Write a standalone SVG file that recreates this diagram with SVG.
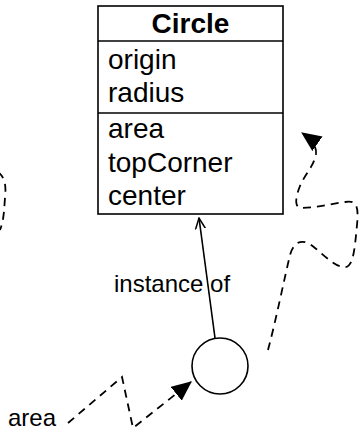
<svg xmlns="http://www.w3.org/2000/svg" width="360" height="432" viewBox="0 0 360 432">
<style>
.t{font-family:"Liberation Sans",Arial,sans-serif;font-size:24px;fill:#000}
.m{font-size:28px}
.b{font-weight:bold}
.ln{fill:none;stroke:#000;stroke-width:1.6}
.d{fill:none;stroke:#000;stroke-width:1.8;stroke-dasharray:8 6}
</style>
<defs>
<marker id="open" viewBox="0 0 12 12" refX="11" refY="6" markerWidth="12" markerHeight="12" markerUnits="userSpaceOnUse" orient="auto">
<path d="M0,1 L11,6 L0,11" fill="none" stroke="#000" stroke-width="1.5"/>
</marker>
<marker id="fill" viewBox="0 0 18 16" refX="17" refY="8" markerWidth="20" markerHeight="18" markerUnits="userSpaceOnUse" orient="auto">
<path d="M0,0 L18,8 L0,16 Z" fill="#000"/>
</marker>
</defs>
<g id="circle-class">
<rect class="ln" x="98" y="6" width="185" height="208" fill="#fff"/>
<line class="ln" x1="98" y1="41" x2="283" y2="41"/>
<line class="ln" x1="98" y1="113" x2="283" y2="113"/>
<text class="t m b" x="190.5" y="33" text-anchor="middle">Circle</text>
<text class="t m" x="108" y="69">origin</text>
<text class="t m" x="108" y="102">radius</text>
<text class="t m" x="108" y="138">area</text>
<text class="t m" x="108" y="172">topCorner</text>
<text class="t m" x="108" y="205">center</text>
</g>
<g id="instance">
<circle class="ln" cx="220" cy="366" r="28"/>
</g>
<g id="labels">
<text class="t" x="114" y="292">instance of</text>
<text class="t" x="8" y="426">area</text>
</g>
<g id="connectors">
<line class="ln" x1="215" y1="338" x2="199" y2="218" marker-end="url(#open)"/>
<path class="d" d="M-2,172 C6,178 6,188 5,198 C4,210 4,220 0,230"/>
<path class="d" d="M268,350 C276,320 284,280 290,255 C294,240 304,238 315,248 C325,256 336,268 346,267 C354,265 355,245 357,225 C359,205 356,200 345,202 C330,204 315,208 300,208 C294,206 296,196 300,186 C305,174 314,166 316,154 C317,147 312,140 302,133" marker-end="url(#fill)"/>
<path class="d" d="M68,423 L122,377 L133,428 L191,382" marker-end="url(#fill)"/>
</g>
</svg>
